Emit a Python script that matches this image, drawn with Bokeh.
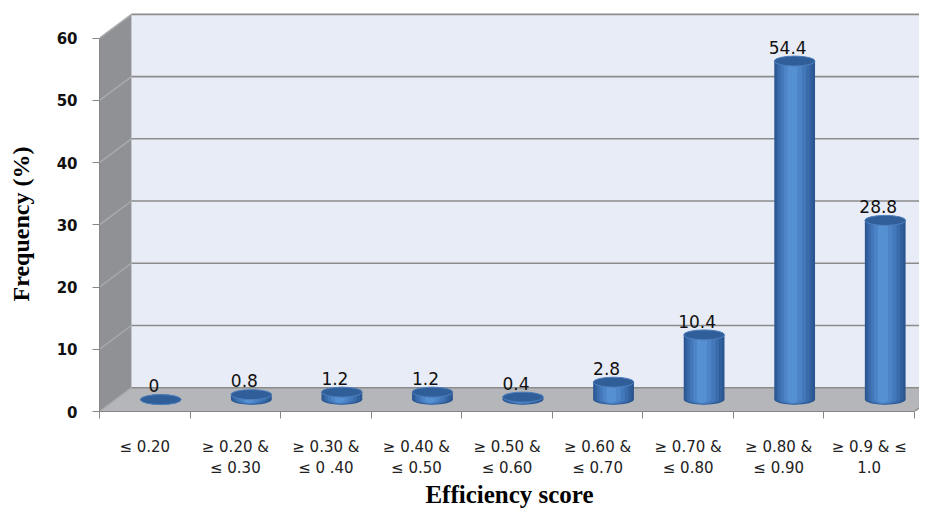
from bokeh.plotting import figure
from bokeh.models import ColumnDataSource, FixedTicker, LinearAxis, Range1d
from bokeh.embed import file_html
from bokeh.resources import INLINE
from bokeh.core.properties import value

# ---- data ----
categories = ["≤ 0.20", "≥ 0.20 &\n≤ 0.30", "≥ 0.30 &\n≤ 0 .40", "≥ 0.40 &\n≤ 0.50",
              "≥ 0.50 &\n≤ 0.60", "≥ 0.60 &\n≤ 0.70", "≥ 0.70 &\n≤ 0.80",
              "≥ 0.80 &\n≤ 0.90", "≥ 0.9 & ≤\n1.0"]
frequency = [0, 0.8, 1.2, 1.2, 0.4, 2.8, 10.4, 54.4, 28.8]
value_labels = ["0", "0.8", "1.2", "1.2", "0.4", "2.8", "10.4", "54.4", "28.8"]
y_ticks = [0, 10, 20, 30, 40, 50, 60]
y_max_tick = 60

# ---- 3D styling constants ----
DX = 0.353   # depth offset in category units
DY = 3.82    # depth offset in value units
N = len(categories)
X_END = 9.055
Y_END = 64.12

p = figure(width=919, height=515, x_range=Range1d(0, X_END), y_range=Range1d(0, Y_END),
           output_backend="svg", toolbar_location=None,
           x_axis_type=None, y_axis_type=None,
           min_border_left=99, min_border_right=0, min_border_top=12, min_border_bottom=104)
p.outline_line_color = None
p.background_fill_color = "white"
p.border_fill_color = "white"

# walls and floor
p.patch(x=[DX, N + DX, N + DX, DX], y=[DY, DY, y_max_tick + DY, y_max_tick + DY],
        fill_color="#e8ecf6", line_color=None)
p.patch(x=[0, 0, DX, DX], y=[0, y_max_tick, y_max_tick + DY, DY],
        fill_color="#8f9194", line_color=None)
p.patch(x=[0, N, N + DX, DX], y=[0, 0, DY, DY],
        fill_color="#b4b6b9", line_color=None)

# gridlines on back wall and left wall
p.segment(x0=[DX] * len(y_ticks), y0=[t + DY for t in y_ticks],
          x1=[N + DX] * len(y_ticks), y1=[t + DY for t in y_ticks],
          line_color="#8c8c8c", line_width=1.6)
p.segment(x0=[0] * len(y_ticks), y0=y_ticks,
          x1=[DX] * len(y_ticks), y1=[t + DY for t in y_ticks],
          line_color="#a9abae", line_width=1.4)
p.segment(x0=[N], y0=[0], x1=[N + DX], y1=[DY], line_color="#8c8c8c", line_width=1.4)

# cylinders
cx = [i + 0.5 + DX / 2 for i in range(N)]
base = [DY / 2] * N
top = [DY / 2 + f for f in frequency]
src = ColumnDataSource(dict(x=cx, base=base, top=top,
                            lx=[c - 0.077 for c in cx],
                            ly=[t + 2.2 for t in top],
                            lab=value_labels))

EH = 1.61
stripes = [(0.45, "#2a5590", 0.0), (0.41, "#305f9b", -0.005), (0.35, "#3a6cac", -0.01),
           (0.28, "#4379bb", -0.015), (0.20, "#4c84c7", -0.02), (0.11, "#5590d3", -0.025)]
for w, col, off in stripes:
    s = ColumnDataSource(dict(x=[c + off for c in cx], base=base, top=top))
    p.ellipse(x="x", y="base", width=w, height=EH * (0.6 + 0.4 * w / 0.45), source=s,
              fill_color=col, line_color=None)
    p.vbar(x="x", width=w, bottom="base", top="top", source=s,
           fill_color=col, line_color=None)

p.ellipse(x="x", y="top", width=0.45, height=EH, source=src,
          fill_color="#2f5e99", line_color="#4f80c0", line_width=1)

# value labels
p.text(x="lx", y="ly", text="lab", source=src, text_align="center",
       text_baseline="alphabetic", text_font=value("DejaVu Sans"),
       text_font_size="17px", text_color="#111111")

# axes
yaxis = LinearAxis(ticker=FixedTicker(ticks=y_ticks), bounds=(0, y_max_tick))
yaxis.axis_line_color = "#868686"
yaxis.major_tick_line_color = "#868686"
yaxis.major_tick_out = 7
yaxis.major_tick_in = 0
yaxis.minor_tick_line_color = None
yaxis.major_label_standoff = 15
yaxis.major_label_text_font = "DejaVu Sans"
yaxis.major_label_text_font_size = "15px"
yaxis.major_label_text_font_style = "bold"
yaxis.major_label_text_color = "#111111"
yaxis.axis_label = "Frequency (%)" + "\u00a0" * 4
yaxis.axis_label_text_font = "Liberation Serif"
yaxis.axis_label_text_font_size = "24px"
yaxis.axis_label_text_font_style = "bold"
yaxis.axis_label_text_color = "#000000"
yaxis.axis_label_standoff = 20
p.add_layout(yaxis, "left")

xticks = [i + 0.5 for i in range(N)]
xaxis = LinearAxis(ticker=FixedTicker(ticks=xticks, minor_ticks=list(range(N + 1))),
                   bounds=(0, N))
xaxis.major_label_overrides = {t: c for t, c in zip(xticks, categories)}
xaxis.axis_line_color = "#868686"
xaxis.major_tick_line_color = None
xaxis.major_tick_out = 0
xaxis.major_tick_in = 0
xaxis.minor_tick_line_color = "#868686"
xaxis.minor_tick_out = 7
xaxis.minor_tick_in = 0
xaxis.major_label_standoff = 19
xaxis.major_label_text_font = "DejaVu Sans"
xaxis.major_label_text_font_size = "15px"
xaxis.major_label_text_color = "#222222"
xaxis.major_label_text_line_height = 1.2
xaxis.axis_label = "Efficiency score"
xaxis.axis_label_text_font = "Liberation Serif"
xaxis.axis_label_text_font_size = "25px"
xaxis.axis_label_text_font_style = "bold"
xaxis.axis_label_text_color = "#000000"
xaxis.axis_label_standoff = 1
p.add_layout(xaxis, "below")

open("out.html", "w").write(file_html(p, INLINE))
